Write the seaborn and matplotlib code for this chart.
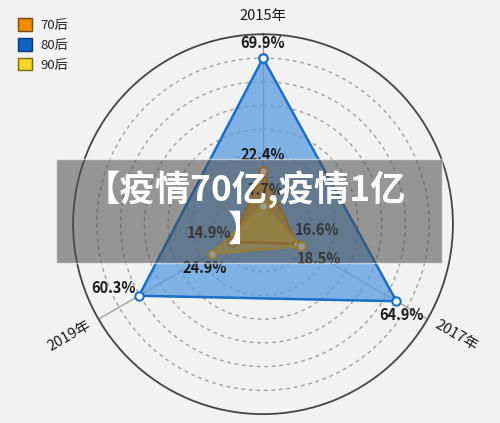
import matplotlib.pyplot as plt
import seaborn as sns
import numpy as np
import pandas as pd
from matplotlib.patches import Patch, Rectangle

years = ['2015年', '2017年', '2019年']
series = ['70后', '80后', '90后']
v70 = [22.4, 16.6, 14.9]
v80 = [69.9, 64.9, 60.3]
v90 = [7.7, 18.5, 24.9]
banner_text = '【疫情70亿,疫情1亿\n】'

sns.set_style('white')
plt.rcParams['font.family'] = ['Noto Sans CJK SC', 'DejaVu Sans']

fig = plt.figure(figsize=(5, 4.23), dpi=100, facecolor='#f2f2f2')
ax = fig.add_axes([0.146, 0.021, 0.76, 0.898], projection='polar')
ax.set_facecolor('#f2f2f2')
ax.set_theta_zero_location('N')
ax.set_theta_direction(-1)

theta = np.deg2rad([0, 120, 240])
styles = {
    '80后': dict(line='#1a6fc8', fill='#5a9be0', alpha=0.75),
    '70后': dict(line='#e08a10', fill='#f0a010', alpha=0.8),
    '90后': dict(line='#e8c020', fill='#f5d040', alpha=0.7),
}
data = {'70后': v70, '80后': v80, '90后': v90}

for name in ['80后', '70后', '90后']:
    vals = data[name]
    st = styles[name]
    df = pd.DataFrame({'theta': list(theta) + [theta[0]], 'r': vals + [vals[0]]})
    ax.fill(df['theta'], df['r'], color=st['fill'], alpha=st['alpha'], zorder=2)
    sns.lineplot(data=df, x='theta', y='r', sort=False, estimator=None, ax=ax,
                 color=st['line'], lw=1.8, marker='o', markersize=6,
                 markerfacecolor='white', markeredgecolor=st['line'],
                 markeredgewidth=1.5, zorder=3)

ax.set_xlabel('')
ax.set_ylabel('')
ax.set_ylim(0, 80)
ax.set_yticks(np.arange(10, 80, 10))
ax.set_yticklabels([])
ax.set_xticks(theta)
ax.set_xticklabels([])
ax.yaxis.grid(True, color='#999999', ls=(0, (3, 3)), lw=0.9)
ax.xaxis.grid(True, color='#999999', ls='-', lw=0.9)
ax.spines['polar'].set_color('#444444')
ax.spines['polar'].set_linewidth(1.3)

# axis labels
for t, lab, r, rot in zip(theta, years, [87.5, 94, 94], [0, -30, 30]):
    ax.text(t, r, lab, ha='center', va='center', rotation=rot, fontsize=10.5,
            color='#1a1a1a', rotation_mode='anchor')

# value labels
offsets = {
    '80后': [(0, 15), (5, -14), (-26, 8)],
    '70后': [(0, 16), (20, 14), (-23, 9)],
    '90后': [(2, 16), (18, -13), (-7, -14)],
}
for name in ['80后', '70后', '90后']:
    for t, v, off in zip(theta, data[name], offsets[name]):
        ax.annotate(f'{v}%', (t, v), xytext=off, textcoords='offset pixels',
                    ha='center', va='center', fontsize=10.5, fontweight='bold',
                    color='#1a1a1a', zorder=5)

legend_colors = {'70后': ('#f08a00', '#7a4a10'),
                 '80后': ('#1262c4', '#0a3a78'),
                 '90后': ('#f8d628', '#7a6a10')}
handles = [Patch(facecolor=legend_colors[s][0], edgecolor=legend_colors[s][1], lw=1, label=s)
           for s in series]
fig.legend(handles=handles, loc='upper left', bbox_to_anchor=(0.012, 0.985),
           frameon=False, fontsize=9.5, handlelength=1.1, handleheight=1.1,
           handletextpad=0.6, labelspacing=0.45)

fig.patches.append(Rectangle((0.112, 0.378), 0.772, 0.246, transform=fig.transFigure,
                             facecolor='#4d4d4d', alpha=0.56, zorder=10))
fig.text(0.49, 0.505, banner_text, ha='center', va='center', fontsize=25.5,
         fontweight='bold', color='white', zorder=11, linespacing=1.12)

fig.savefig('out.png', dpi=100, facecolor=fig.get_facecolor())
